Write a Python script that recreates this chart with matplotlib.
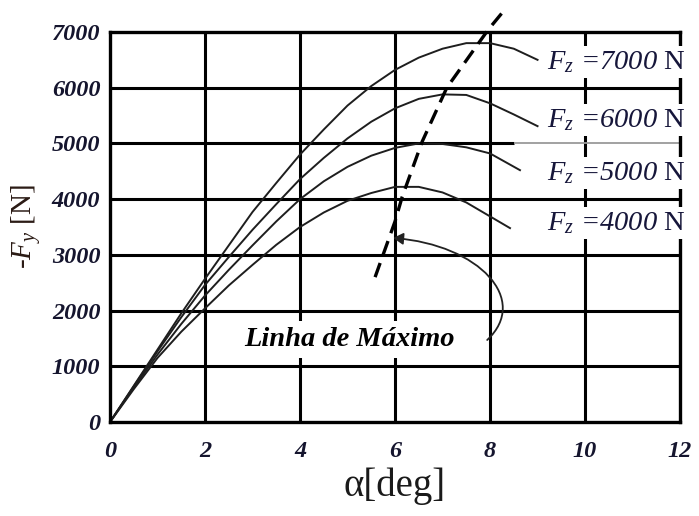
import matplotlib
matplotlib.use('Agg')
import matplotlib.pyplot as plt
from matplotlib.path import Path
from matplotlib.patches import FancyArrowPatch

plt.rcParams['font.family'] = ['Liberation Serif', 'DejaVu Serif']
plt.rcParams['mathtext.fontset'] = 'custom'
plt.rcParams['mathtext.rm'] = 'Liberation Serif'
plt.rcParams['mathtext.it'] = 'Liberation Serif:italic'
plt.rcParams['mathtext.bf'] = 'Liberation Serif:bold'

# eixos
alpha_ticks = [0, 2, 4, 6, 8, 10, 12]
force_ticks = [0, 1000, 2000, 3000, 4000, 5000, 6000, 7000]

# curvas -Fy x alpha
alpha_7000 = [0, 0.5, 1, 1.5, 2, 2.5, 3, 3.5, 4, 4.5, 5, 5.5, 6, 6.5, 7, 7.5, 8, 8.5, 9]
fy_7000 = [0, 650, 1300, 1950, 2570, 3170, 3770, 4290, 4800, 5250, 5680, 6030, 6320, 6540, 6700, 6800, 6800, 6700, 6500]

alpha_6000 = [0, 0.5, 1, 1.5, 2, 2.5, 3, 3.5, 4, 4.5, 5, 5.5, 6, 6.5, 7, 7.5, 8, 8.5, 9]
fy_6000 = [0, 640, 1270, 1880, 2460, 2960, 3450, 3910, 4360, 4740, 5090, 5390, 5630, 5800, 5880, 5870, 5720, 5520, 5310]

alpha_5000 = [0, 0.5, 1, 1.5, 2, 2.5, 3, 3.5, 4, 4.5, 5, 5.5, 6, 6.5, 7, 7.5, 8, 8.63]
fy_5000 = [0, 620, 1210, 1760, 2270, 2730, 3170, 3600, 4000, 4320, 4580, 4780, 4920, 5000, 4990, 4930, 4820, 4520]

alpha_4000 = [0, 0.5, 1, 1.5, 2, 2.5, 3, 3.5, 4, 4.5, 5, 5.5, 6, 6.5, 7, 7.5, 8, 8.42]
fy_4000 = [0, 590, 1150, 1620, 2040, 2450, 2820, 3180, 3500, 3760, 3970, 4110, 4220, 4220, 4120, 3940, 3690, 3480]

# linha de maximo (tracejada)
max_alpha = [5.58, 6.0, 6.15, 6.57, 7.09, 7.96, 8.27]
max_fy = [2600, 3600, 4040, 5030, 6000, 7040, 7360]

labels = ['7000', '6000', '5000', '4000']
label_y = [6460, 5420, 4470, 3570]
label_x = 9.2

fig = plt.figure(figsize=(6.99, 5.16), dpi=100)
ax = fig.add_axes([0.1574, 0.1822, 0.8155, 0.7558])
ax.set_xlim(0, 12)
ax.set_ylim(0, 7000)

# grade
for xv in alpha_ticks[1:-1]:
    ax.axvline(xv, color='black', lw=2.2, zorder=1)
for yv in force_ticks[1:-1]:
    if yv == 5000:
        ax.hlines(yv, 0, 8.5, color='black', lw=2.2, zorder=1)
        ax.hlines(yv, 8.5, 12, color='#9a9a9a', lw=1.3, zorder=1)
    else:
        ax.axhline(yv, color='black', lw=2.2, zorder=1)
for s in ax.spines.values():
    s.set_linewidth(2.4)

for a, f in [(alpha_7000, fy_7000), (alpha_6000, fy_6000),
             (alpha_5000, fy_5000), (alpha_4000, fy_4000)]:
    ax.plot(a, f, color='#1e1e1e', lw=1.4, zorder=2)

ax.plot(max_alpha, max_fy, color='black', lw=2.4, dashes=(4.5, 2.5),
        clip_on=False, zorder=2)

for lab, yl in zip(labels, label_y):
    ax.text(label_x, yl, r'$F_z$ =' + lab + r' $\mathrm{N}$', fontsize=20.5,
            fontstyle='italic', color='#16163a', ha='left', va='center',
            clip_on=False, zorder=4,
            bbox=dict(facecolor='white', edgecolor='none', pad=2.5))

ax.text(5.05, 1480, 'Linha de Máximo', fontsize=20.5, fontweight='bold',
        fontstyle='italic', ha='center', va='center', zorder=4,
        bbox=dict(facecolor='white', edgecolor='none', pad=4))

arrow_path = Path([(7.94, 1472), (8.84, 2190), (7.79, 3178), (5.96, 3303)],
                  [Path.MOVETO, Path.CURVE4, Path.CURVE4, Path.CURVE4])
arrow = FancyArrowPatch(path=arrow_path, arrowstyle='-|>,head_length=6,head_width=3.5',
                        color='#222222', lw=1.3, zorder=5)
ax.add_patch(arrow)

ax.set_xticks(alpha_ticks)
ax.set_yticks(force_ticks)
ax.tick_params(length=0)
ax.tick_params(axis='x', pad=14)
ax.tick_params(axis='y', pad=7)
for t in ax.get_xticklabels() + ax.get_yticklabels():
    t.set_fontsize(17.5)
    t.set_fontweight('bold')
    t.set_fontstyle('italic')
    t.set_color('#15152e')

ax.set_xlabel('α[deg]', fontsize=28, color='#1a1a1a', labelpad=4)
ax.set_ylabel(r'-$F_y$ [N]', fontsize=21, color='#2a1a14', labelpad=6)

fig.savefig('out.png', dpi=100)
